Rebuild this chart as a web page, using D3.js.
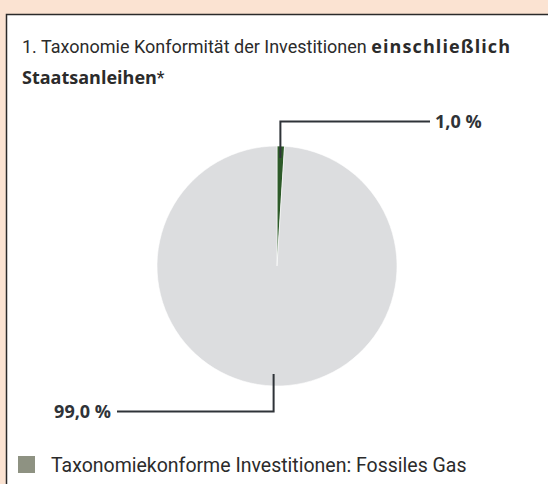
<!doctype html>
<html lang="de">
<head>
<meta charset="utf-8">
<title>Taxonomie Konformität</title>
<style>
html, body {
	margin: 0;
	padding: 0;
	background: #fbe3d2;
}
svg {
	display: block;
	font-family: 'Roboto', sans-serif;
}
.b {
	font-family: 'Open Sans', sans-serif;
	font-weight: 700;
}
</style>
</head>
<body>
<svg id="chart" width="548" height="484"></svg>
<script src="https://cdnjs.cloudflare.com/ajax/libs/d3/7.8.5/d3.min.js"></script>
<script>
// data
var categories = ['Taxonomiekonform: Fossiles Gas', 'Übrige Investitionen'];
var values = [1.0, 99.0];
var valueLabels = ['1,0 %', '99,0 %'];
var legendLabels = ['Taxonomiekonforme Investitionen: Fossiles Gas'];

var colors = ['#2d5a29', '#dcdddf'];
var legendColor = '#8e9282';
var ink = '#2f3338';
var textColor = '#2b2b2b';

var W = 548, H = 484;
var cx = 277, cy = 266, R = 120;

var svg = d3.select('#chart');

// panel
svg.append('rect')
	.attr('x', 0).attr('y', 0).attr('width', W).attr('height', H)
	.attr('fill', '#fbe3d2');
svg.append('rect')
	.attr('x', 6.5).attr('y', 14.5).attr('width', W).attr('height', H)
	.attr('fill', '#fff')
	.attr('stroke', '#2a2a2a')
	.attr('stroke-width', 1.5);

// title
var title = svg.append('text')
	.attr('x', 22).attr('y', 53)
	.attr('font-size', 18)
	.attr('fill', textColor);
title.append('tspan').text('1. Taxonomie Konformität der Investitionen ');
title.append('tspan').attr('class', 'b')
	.attr('letter-spacing', 1.1)
	.text('einschließlich');
var title2 = svg.append('text')
	.attr('x', 22).attr('y', 84)
	.attr('font-size', 18)
	.attr('fill', textColor);
title2.append('tspan').attr('class', 'b').text('Staatsanleihen');
title2.append('tspan').text('*');

// pie
var pie = d3.pie().sort(null).value(function (d) { return d; });
var arcs = pie(values);
var arc = d3.arc().innerRadius(0).outerRadius(R);

var g = svg.append('g').attr('transform', 'translate(' + cx + ',' + cy + ')');
g.selectAll('path.slice')
	.data(arcs)
	.enter()
	.append('path')
	.attr('class', 'slice')
	.attr('d', arc)
	.attr('fill', function (d, i) { return colors[i]; })
	.attr('stroke', '#fff')
	.attr('stroke-width', 0.6);

// leader lines + labels
var elbowY = [cy - R - 24.5, cy + R + 25.5];
var endX = [430, 117];

arcs.forEach(function (d, i) {
	var a = (d.startAngle + d.endAngle) / 2;
	var r0 = R - 12;
	var x0 = cx + r0 * Math.sin(a);
	var y0 = cy - r0 * Math.cos(a);
	var pts = [[x0, y0], [x0, elbowY[i]], [endX[i], elbowY[i]]];
	svg.append('path')
		.attr('d', d3.line()(pts))
		.attr('fill', 'none')
		.attr('stroke', ink)
		.attr('stroke-width', 2);
	var right = endX[i] > x0;
	svg.append('text')
		.attr('class', 'b')
		.attr('x', right ? endX[i] + 5 : endX[i] - 6)
		.attr('y', elbowY[i] + 6)
		.attr('text-anchor', right ? 'start' : 'end')
		.attr('font-size', 18)
		.attr('fill', ink)
		.text(valueLabels[i]);
});

// legend
var legend = svg.append('g').attr('transform', 'translate(18,456)');
legendLabels.forEach(function (t, i) {
	legend.append('rect')
		.attr('x', 0).attr('y', i * 24)
		.attr('width', 17).attr('height', 17)
		.attr('fill', legendColor);
	legend.append('text')
		.attr('x', 33).attr('y', i * 24 + 16)
		.attr('font-size', 19.5)
		.attr('fill', textColor)
		.text(t);
});
</script>
</body>
</html>
